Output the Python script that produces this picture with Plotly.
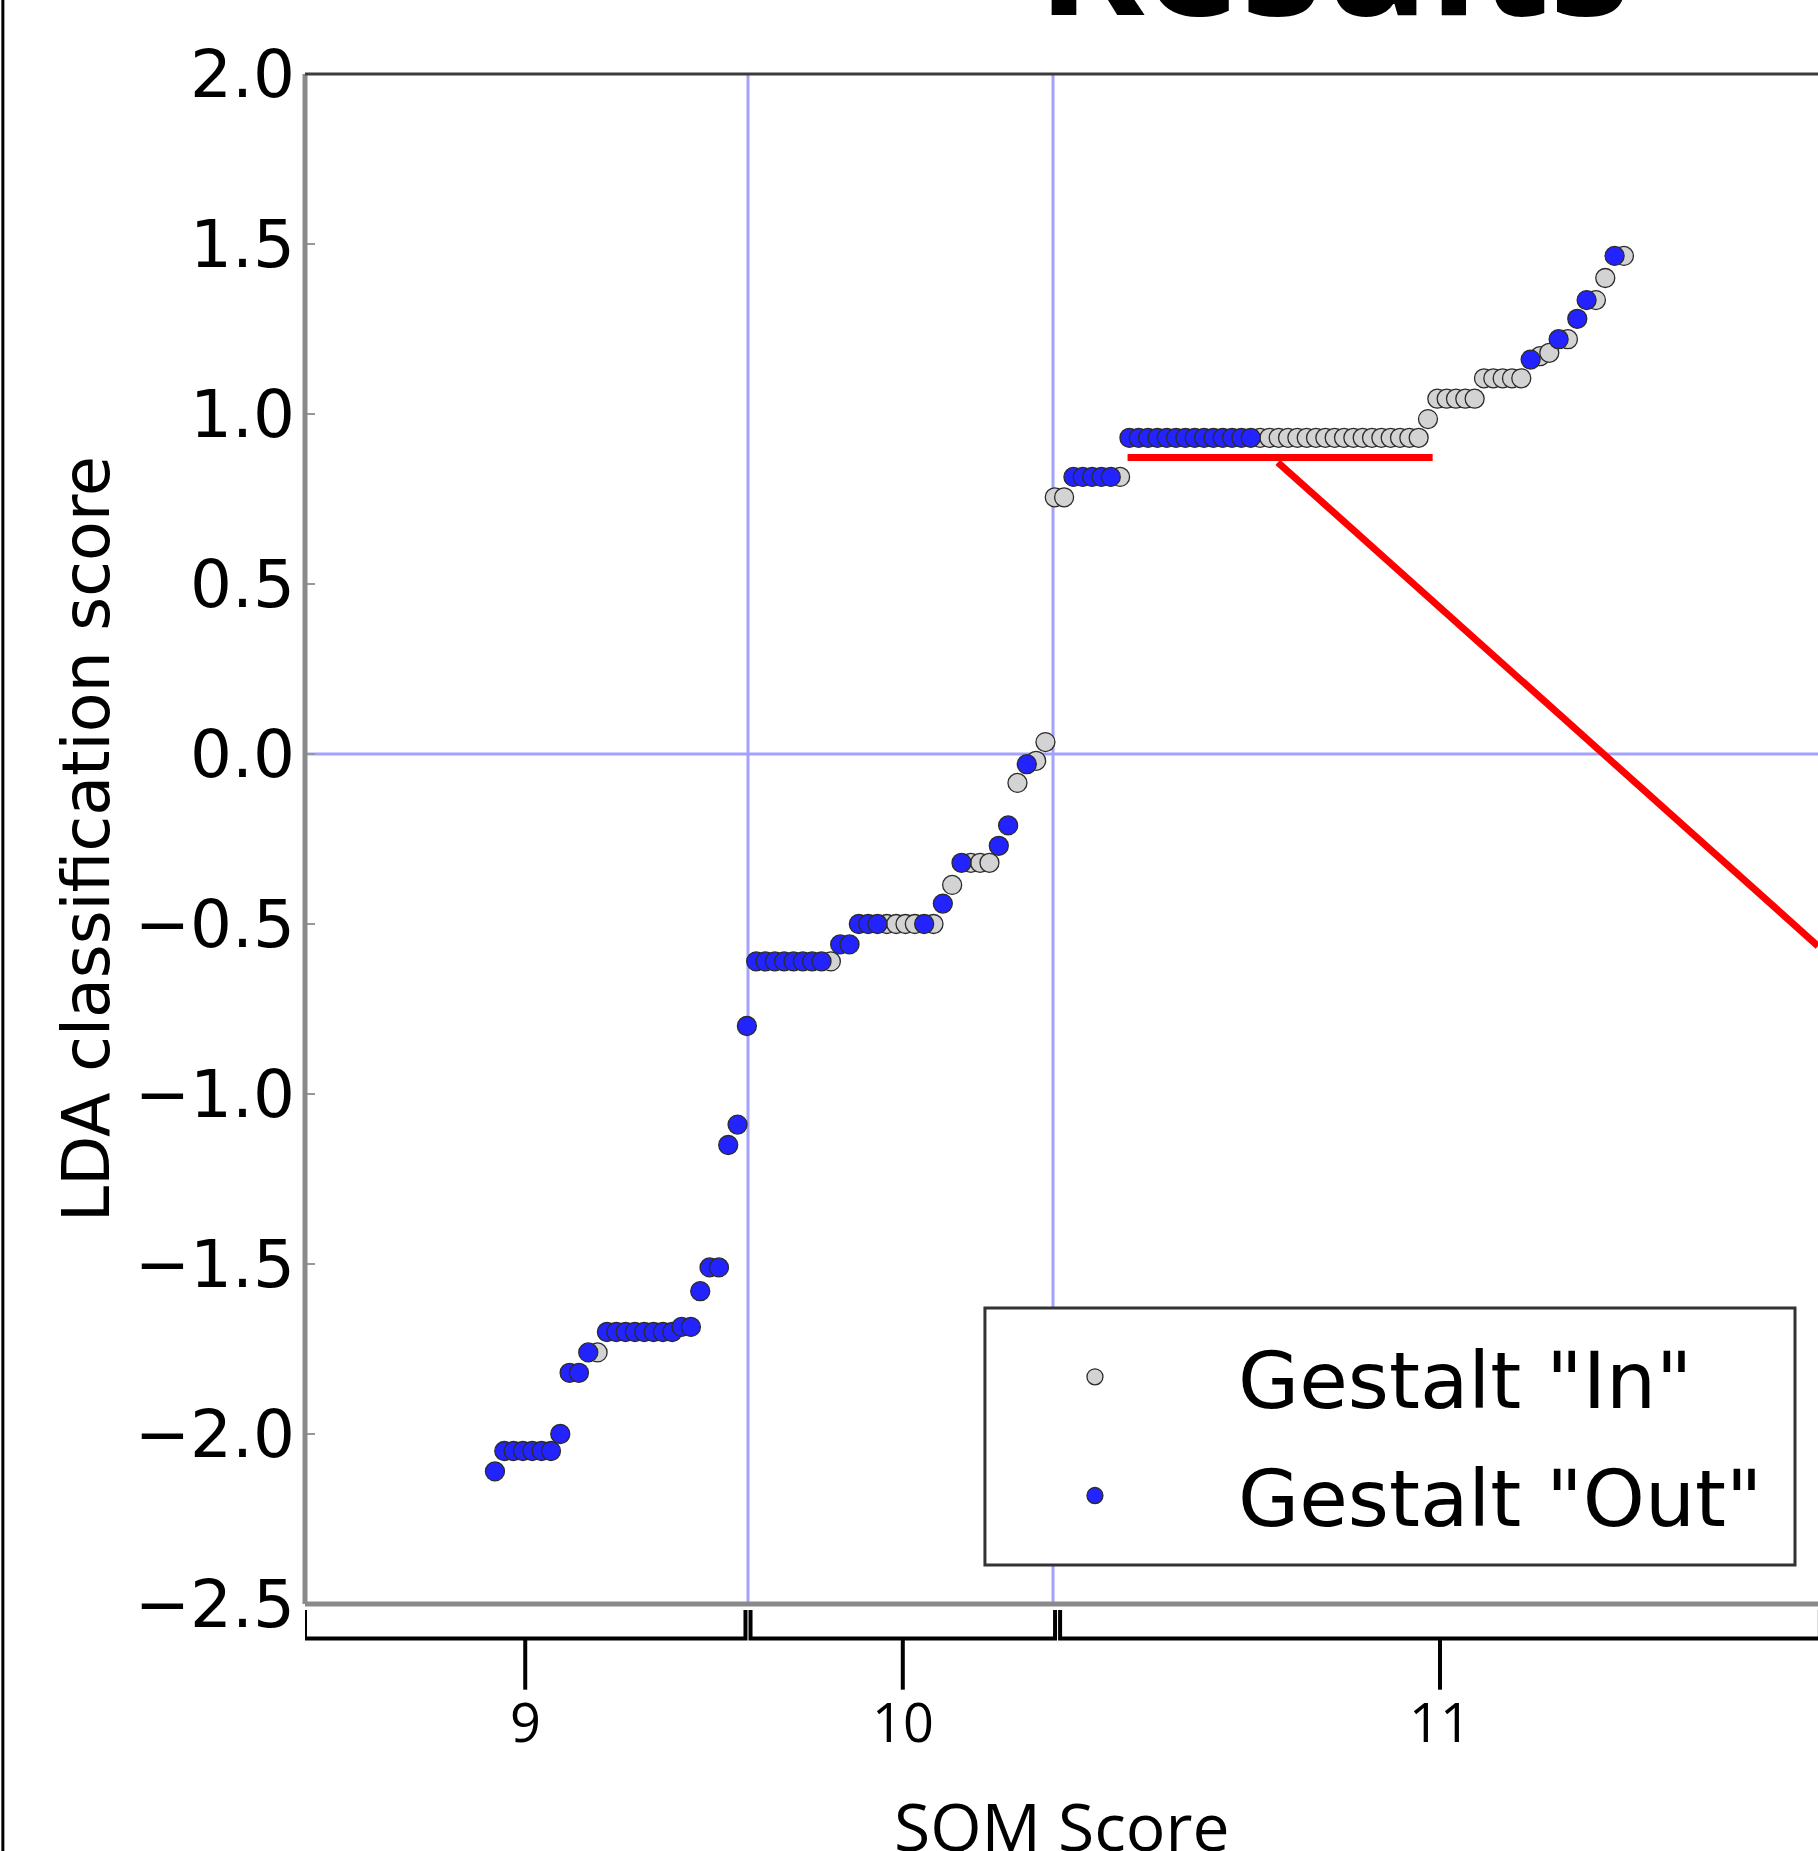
import plotly.graph_objects as go

# LDA classification score of each sample, sorted ascending (x = rank of sample)
lda_score = [
    -2.11,
    -2.05, -2.05, -2.05, -2.05, -2.05, -2.05,
    -2.00,
    -1.82, -1.82,
    -1.76, -1.76,
    -1.70, -1.70, -1.70, -1.70, -1.70, -1.70, -1.70, -1.70,
    -1.685, -1.685,
    -1.58,
    -1.51, -1.51,
    -1.15,
    -1.09,
    -0.80,
    -0.61, -0.61, -0.61, -0.61, -0.61, -0.61, -0.61, -0.61, -0.61,
    -0.56, -0.56,
    -0.50, -0.50, -0.50, -0.50, -0.50, -0.50, -0.50, -0.50, -0.50,
    -0.44,
    -0.385,
    -0.32, -0.32, -0.32, -0.32,
    -0.27,
    -0.21,
    -0.085,
    -0.03,
    -0.02,
    0.035,
    0.755, 0.755,
    0.815, 0.815, 0.815, 0.815, 0.815, 0.815,
    0.93, 0.93, 0.93, 0.93, 0.93, 0.93, 0.93, 0.93, 0.93, 0.93, 0.93, 0.93, 0.93, 0.93,
    0.93, 0.93, 0.93, 0.93, 0.93, 0.93, 0.93, 0.93, 0.93, 0.93, 0.93, 0.93, 0.93, 0.93,
    0.93, 0.93, 0.93, 0.93,
    0.985,
    1.045, 1.045, 1.045, 1.045, 1.045,
    1.105, 1.105, 1.105, 1.105, 1.105,
    1.16,
    1.17,
    1.18,
    1.22, 1.22,
    1.28,
    1.335, 1.335,
    1.40,
    1.465, 1.465,
]

# Gestalt group of each sample (same order): "In" or "Out"
gestalt = (
    ["Out"]
    + ["Out"] * 6
    + ["Out"]
    + ["Out", "Out"]
    + ["Out", "In"]
    + ["Out"] * 8
    + ["Out", "Out"]
    + ["Out"]
    + ["Out", "Out"]
    + ["Out"]
    + ["Out"]
    + ["Out"]
    + ["Out"] * 8 + ["In"]
    + ["Out", "Out"]
    + ["Out", "Out", "Out", "In", "In", "In", "In", "Out", "In"]
    + ["Out"]
    + ["In"]
    + ["Out", "In", "In", "In"]
    + ["Out"]
    + ["Out"]
    + ["In"]
    + ["Out"]
    + ["In"]
    + ["In"]
    + ["In", "In"]
    + ["Out"] * 5 + ["In"]
    + ["Out"] * 14 + ["In"] * 18
    + ["In"]
    + ["In"] * 5
    + ["In"] * 5
    + ["Out"]
    + ["In"]
    + ["In"]
    + ["Out", "In"]
    + ["Out"]
    + ["Out", "In"]
    + ["In"]
    + ["Out", "In"]
)

rank = list(range(len(lda_score)))

# SQM score groups and the rank positions that separate them
sqm_groups = ["9", "10", "11"]
group_lines = [27.12, 59.81]
bracket_edges = [27.12, 60.3]

y_ticks = [2.0, 1.5, 1.0, 0.5, 0.0, -0.5, -1.0, -1.5, -2.0, -2.5]
y_tick_text = ["2.0", "1.5", "1.0", "0.5", "0.0", "\u22120.5", "\u22121.0",
               "\u22121.5", "\u22122.0", "\u22122.5"]

X_RANGE = [-20.36, 141.8]
Y_RANGE = [-2.5, 2.0]

fig = go.Figure()

styles = {
    "In": dict(name='Gestalt "In"', color="#d3d3d3"),
    "Out": dict(name='Gestalt "Out"', color="#2323ff"),
}
for key in ["In", "Out"]:
    xs = [r for r, g in zip(rank, gestalt) if g == key]
    ys = [v for v, g in zip(lda_score, gestalt) if g == key]
    fig.add_trace(go.Scatter(
        x=xs, y=ys, mode="markers", name=styles[key]["name"],
        legendgroup=key,
        marker=dict(size=19, color=styles[key]["color"],
                    line=dict(color="#2b2b2b", width=1.3)),
    ))

shapes = []
grid_style = dict(color="#a3a3ff", width=3)
for gx in group_lines:
    shapes.append(dict(type="line", xref="x", yref="paper", x0=gx, x1=gx,
                       y0=0, y1=1, line=grid_style, layer="below"))
shapes.append(dict(type="line", xref="paper", yref="y", x0=0, x1=1,
                   y0=0, y1=0, line=grid_style, layer="below"))

# spines
shapes.append(dict(type="line", xref="paper", yref="paper", x0=0, x1=0,
                   y0=0, y1=1, line=dict(color="#8a8a8a", width=5)))
shapes.append(dict(type="line", xref="paper", yref="paper", x0=0, x1=1,
                   y0=1, y1=1, line=dict(color="#3c3c3c", width=3)))
shapes.append(dict(type="line", xref="paper", yref="paper", x0=0, x1=1,
                   y0=0, y1=0, line=dict(color="#8a8a8a", width=5)))

# red highlight
shapes.append(dict(type="line", xref="x", yref="y", x0=67.8, x1=100.5,
                   y0=0.872, y1=0.872, line=dict(color="#ff0000", width=7)))
shapes.append(dict(type="line", xref="x", yref="y", x0=83.9, x1=141.8,
                   y0=0.858, y1=-0.565, line=dict(color="#ff0000", width=7)))

# legend frame
shapes.append(dict(type="rect", xref="paper", yref="paper",
                   x0=0.4494, x1=0.9848, y0=0.0255, y1=0.1935,
                   line=dict(color="#333333", width=3), fillcolor="white",
                   layer="above"))

# group brackets under the axis
edges = [X_RANGE[0]] + bracket_edges + [142.0]
gap = 0.27
yt, yb, ytick = -0.0039, -0.0226, -0.0560
annotations = []
for i, lab in enumerate(sqm_groups):
    a = edges[i] + (gap if i > 0 else 0)
    b = edges[i + 1] - (gap if i < len(sqm_groups) - 1 else 0)
    c = (a + b) / 2
    shapes.append(dict(type="path", xref="x", yref="paper",
                       path=f"M {a},{yt} L {a},{yb} L {b},{yb} L {b},{yt}",
                       line=dict(color="black", width=4)))
    shapes.append(dict(type="line", xref="x", yref="paper", x0=c, x1=c,
                       y0=yb, y1=ytick, line=dict(color="black", width=4)))
    annotations.append(dict(x=c, y=-0.0765, xref="x", yref="paper",
                            text=lab, showarrow=False, xanchor="center",
                            yanchor="middle",
                            font=dict(family="Open Sans", size=54, color="black")))

# slide frame edge
shapes.append(dict(type="line", xref="paper", yref="paper", x0=-0.1997, x1=-0.1997,
                   y0=-0.17, y1=1.06, line=dict(color="black", width=3)))

annotations.append(dict(x=0.5, y=-0.1445, xref="paper", yref="paper",
                        text="SQM Score", showarrow=False, xanchor="center",
                        yanchor="middle",
                        font=dict(family="Open Sans", size=66, color="black")))
annotations.append(dict(x=-0.1447, y=0.5, xref="paper", yref="paper",
                        text="LDA classification score", showarrow=False,
                        textangle=-90, xanchor="center", yanchor="middle",
                        font=dict(family="DejaVu Sans", size=65, color="black")))
annotations.append(dict(x=0.680, y=1.0059, xref="paper", yref="paper",
                        text="<b>Results</b>", showarrow=False,
                        xanchor="center", yanchor="bottom",
                        font=dict(family="Open Sans", size=163, color="black")))

fig.update_layout(
    width=1818, height=1851, autosize=False,
    margin=dict(l=305, r=0, t=74, b=247, pad=0),
    paper_bgcolor="white", plot_bgcolor="white",
    showlegend=True,
    legend=dict(x=0.4276, y=0.1863, xanchor="left", yanchor="top",
                font=dict(family="DejaVu Sans", size=79, color="black"),
                borderwidth=0, bgcolor="rgba(0,0,0,0)",
                itemwidth=276, traceorder="grouped", tracegroupgap=13),
    xaxis=dict(range=X_RANGE, showticklabels=False, ticks="", showgrid=False,
               zeroline=False, showline=False),
    yaxis=dict(range=Y_RANGE, tickvals=y_ticks, ticktext=y_tick_text,
               ticks="inside", ticklen=10, tickwidth=2, tickcolor="#999999",
               ticklabelstandoff=9, showgrid=False, zeroline=False, showline=False,
               tickfont=dict(family="DejaVu Sans", size=66, color="black")),
    shapes=shapes,
    annotations=annotations,
)

fig.write_html(
    "out.html",
    config={"displayModeBar": False},
    post_script="document.body.style.margin='0';document.body.style.overflow='hidden';",
)
